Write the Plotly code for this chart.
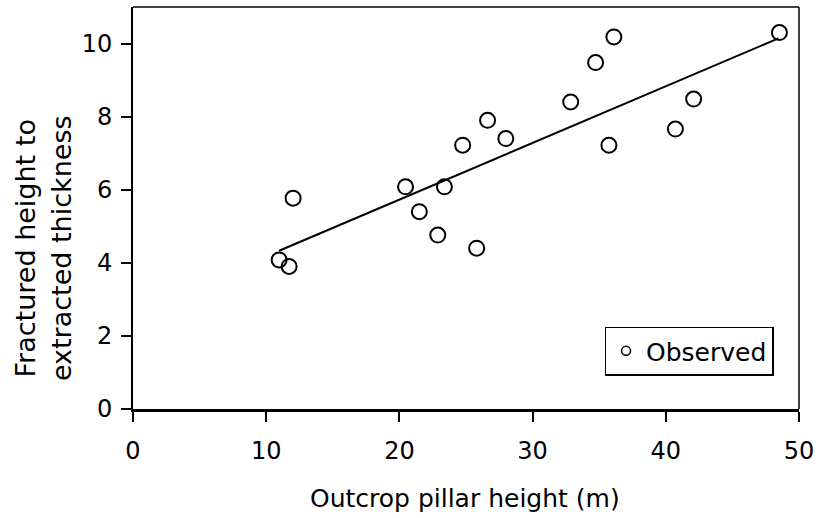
import plotly.graph_objects as go

# Data
pillar_height = [10.97, 11.72, 12.02, 20.46, 21.5, 22.88, 23.38, 24.75, 25.8,
                 26.62, 27.99, 32.86, 34.73, 35.73, 36.1, 40.72, 42.09, 48.53]
fracture_ratio = [4.08, 3.90, 5.77, 6.08, 5.40, 4.76, 6.08, 7.22, 4.40,
                  7.90, 7.40, 8.40, 9.48, 7.22, 10.18, 7.66, 8.48, 10.30]
trend_x = [10.97, 48.45]
trend_y = [4.33, 10.14]
x_ticks = [0, 10, 20, 30, 40, 50]
y_ticks = [0, 2, 4, 6, 8, 10]
series_name = "Observed"
x_title = "Outcrop pillar height (m)"
y_title = "Fractured height to<br>extracted thickness"

FONT = "DejaVu Sans, Arial, sans-serif"

fig = go.Figure()
fig.add_trace(go.Scatter(
    x=trend_x, y=trend_y, mode="lines",
    line=dict(color="black", width=2), showlegend=False, hoverinfo="skip"))
fig.add_trace(go.Scatter(
    x=pillar_height, y=fracture_ratio, mode="markers", name=series_name,
    marker=dict(symbol="circle-open", size=15, color="black",
                line=dict(color="black", width=2)),
    showlegend=False))
# legend entry (smaller symbol, as in the reference)
fig.add_trace(go.Scatter(
    x=[None], y=[None], mode="markers", name=series_name,
    marker=dict(symbol="circle-open", size=9, color="black",
                line=dict(color="black", width=1.5))))

fig.update_layout(
    width=821, height=518,
    margin=dict(l=133, r=20, t=7, b=109),
    paper_bgcolor="white", plot_bgcolor="white",
    font=dict(family=FONT, color="black", size=24),
    showlegend=True,
    legend=dict(x=0.708, y=0.205, xanchor="left", yanchor="top",
                bordercolor="black", borderwidth=1.5, bgcolor="white",
                font=dict(size=25, family=FONT), itemwidth=30,
                tracegroupgap=0),
    xaxis=dict(range=[0, 50], tickvals=x_ticks, ticks="outside", ticklen=10,
               tickwidth=1.5, tickcolor="black", showline=True,
               linecolor="black", linewidth=3, showgrid=False, zeroline=False,
               ticklabelstandoff=8, tickfont=dict(size=24)),
    yaxis=dict(range=[0, 11], tickvals=y_ticks, ticks="outside", ticklen=10,
               tickwidth=1.5, tickcolor="black", showline=True,
               linecolor="black", linewidth=2, showgrid=False, zeroline=False,
               ticklabelstandoff=4, tickfont=dict(size=24)),
    shapes=[dict(type="line", xref="paper", yref="paper", x0=0, x1=1, y0=1, y1=1,
                 line=dict(color="black", width=1.5)),
            dict(type="line", xref="paper", yref="paper", x0=1, x1=1, y0=0, y1=1,
                 line=dict(color="black", width=1.5))],
    annotations=[
        dict(text=x_title, xref="paper", yref="paper", x=0.498, y=-0.223,
             xanchor="center", yanchor="middle", showarrow=False,
             font=dict(size=25, family=FONT)),
        dict(text=y_title, xref="paper", yref="paper", x=-0.1347, y=0.401,
             xanchor="center", yanchor="middle", showarrow=False, textangle=-90,
             font=dict(size=27, family=FONT)),
    ],
)

fig.write_html("out.html", config={"displayModeBar": False},
               post_script="document.body.style.margin='0px';document.body.style.padding='0px';")
